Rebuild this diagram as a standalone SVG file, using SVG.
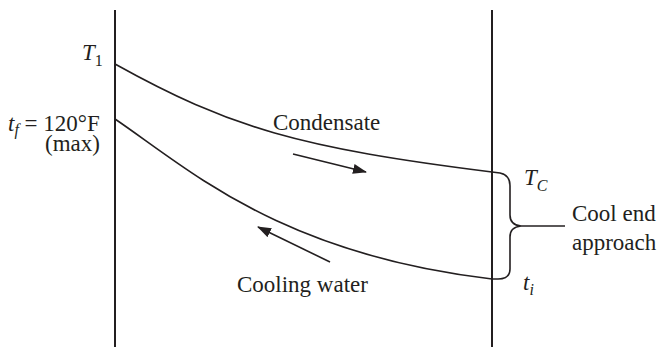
<svg xmlns="http://www.w3.org/2000/svg" width="660" height="347" viewBox="0 0 660 347">
<style>
.ln{fill:none;stroke:#231f20;stroke-width:1.6}
.wall{fill:none;stroke:#231f20;stroke-width:2}
text{font-family:"Liberation Serif","Times New Roman",serif;font-size:23px;fill:#231f20}
.it{font-style:italic}
.sub{font-size:16px}
</style>
<defs>
<marker id="ah" markerWidth="14" markerHeight="10" refX="13" refY="5" orient="auto" markerUnits="userSpaceOnUse">
<path d="M0,0 L14,5 L0,10 Z" fill="#231f20"/>
</marker>
</defs>
<g id="walls">
<line class="wall" x1="115" y1="10" x2="115" y2="347"/>
<line class="wall" x1="492" y1="10" x2="492" y2="347"/>
</g>
<g id="connectors">
<path id="condensate-curve" class="ln" d="M115,64 C230,128 300,148 492,172 L500,173 Q510,175 510,186 L510,215 Q510,225 521,226 Q510,227 510,237 L510,269 Q510,279 498,279 L492,279"/>
<path id="water-curve" class="ln" d="M115,119 C190,170 280,254 492,279"/>
<line class="ln" x1="521" y1="226" x2="565" y2="226"/>
<line class="ln" x1="293" y1="154" x2="366" y2="172" marker-end="url(#ah)"/>
<line class="ln" x1="330" y1="262" x2="258" y2="227" marker-end="url(#ah)"/>
</g>
<g id="labels">
<text class="it" x="82" y="60">T<tspan class="sub" font-style="normal" dy="6">1</tspan></text>
<text x="8" y="131"><tspan class="it">t</tspan><tspan class="it sub" dy="4">f</tspan><tspan dy="-4"> = 120°F</tspan><tspan x="45" dy="20">(max)</tspan></text>
<text x="273" y="130">Condensate</text>
<text x="237" y="292">Cooling water</text>
<text class="it" x="524" y="185">T<tspan class="sub" dy="6">C</tspan></text>
<text class="it" x="523" y="290">t<tspan class="sub" dy="5">i</tspan></text>
<text x="572" y="221">Cool end</text>
<text x="572" y="250">approach</text>
</g>
</svg>
